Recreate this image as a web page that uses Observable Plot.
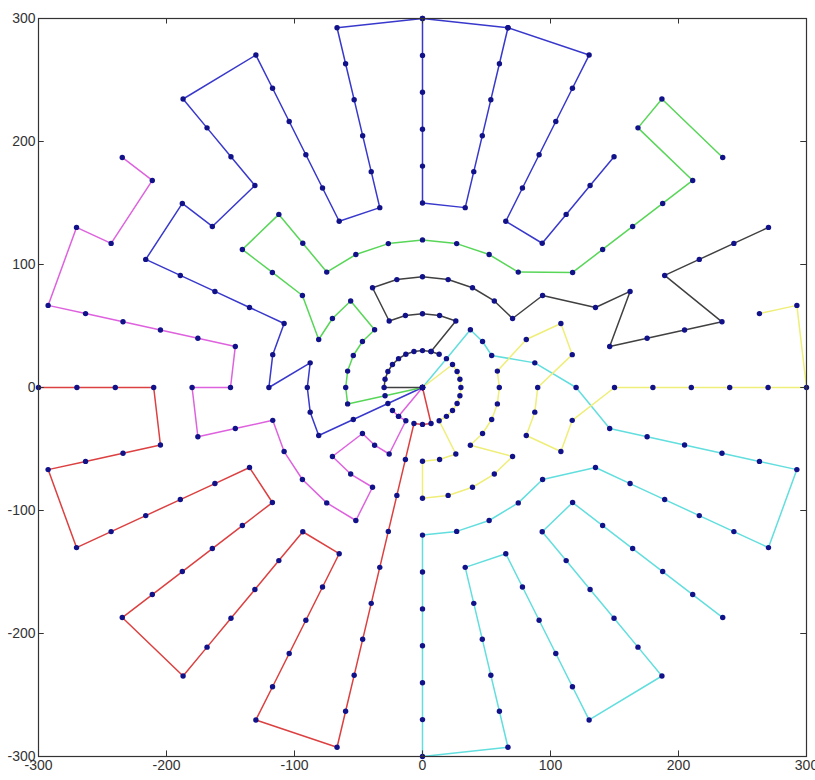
<!DOCTYPE html>
<html><head><meta charset="utf-8">
<script src="https://cdn.jsdelivr.net/npm/d3@7"></script>
<script src="https://cdn.jsdelivr.net/npm/@observablehq/plot@0.6"></script>
<style>body{margin:0;background:#fff}</style>
</head><body><div id="chart"></div>
<script>
// Polar grid the paths run on: ring index k (radius = k * ringStep), spoke index j (angle = j / spokes of a turn)
const spokes = 28;
const ringStep = 30;
const xTicks = [-300, -200, -100, 0, 100, 200, 300];
const yTicks = [-300, -200, -100, 0, 100, 200, 300];

// Each path: list of [ring, spoke] vertices
const bluePathA = [[0,0],[1,16],[2,16],[3,16],[3,15],[3,14],[3,13],[4,14],[4,13],[4,12],[5,12],[6,12],[7,12],[8,12],[8,11],[7,11],[7,10],[8,10],[9,10],[10,10],[10,9],[9,9],[8,9],[7,9],[6,9],[5,9],[5,8],[6,8],[7,8],[8,8],[9,8],[10,8],[10,7],[10,6],[10,5],[9,5],[8,5],[7,5],[6,5],[5,5],[5,4],[6,4],[7,4],[8,4]];
const bluePathB = [[10,7],[9,7],[8,7],[7,7],[6,7],[5,7],[5,6],[6,6],[7,6],[8,6],[9,6],[10,6]];
const greenPath = [[0,0],[1,15],[2,15],[2,14],[2,13],[2,12],[2,11],[2,10],[3,10],[3,11],[3,12],[4,11],[5,11],[6,11],[6,10],[5,10],[4,10],[4,9],[4,8],[4,7],[4,6],[4,5],[4,4],[5,3],[6,3],[7,3],[8,3],[9,3],[9,4],[10,4],[10,3]];
const redPath = [[0,0],[1,22],[1,21],[1,20],[2,20],[3,20],[4,20],[5,20],[6,20],[7,20],[8,20],[9,20],[10,20],[10,19],[9,19],[8,19],[7,19],[6,19],[5,19],[5,18],[6,18],[7,18],[8,18],[9,18],[10,18],[10,17],[9,17],[8,17],[7,17],[6,17],[5,17],[5,16],[6,16],[7,16],[8,16],[9,16],[10,16],[10,15],[9,15],[8,15],[7,15],[7,14],[8,14],[9,14],[10,14]];
const cyanPath = [[0,0],[1,4],[2,4],[2,3],[2,2],[3,1],[4,0],[5,27],[6,27],[7,27],[8,27],[9,27],[10,27],[10,26],[9,26],[8,26],[7,26],[6,26],[5,26],[4,25],[4,24],[4,23],[4,22],[4,21],[5,21],[6,21],[7,21],[8,21],[9,21],[10,21],[10,22],[9,22],[8,22],[7,22],[6,22],[5,22],[5,23],[6,23],[7,23],[8,23],[9,23],[10,23],[10,24],[9,24],[8,24],[7,24],[6,24],[5,24],[5,25],[6,25],[7,25],[8,25],[9,25],[10,25]];
const magentaPath = [[0,0],[1,18],[1,17],[1,18],[1,19],[2,19],[2,18],[2,17],[3,17],[3,18],[3,19],[4,19],[4,18],[4,17],[4,16],[4,15],[5,15],[6,15],[6,14],[5,14],[5,13],[6,13],[7,13],[8,13],[9,13],[10,13],[10,12],[9,12],[9,11],[10,11]];
const yellowPath = [[0,0],[1,3],[1,2],[1,1],[1,0],[1,27],[1,26],[1,25],[1,24],[1,23],[2,23],[2,22],[2,21],[3,21],[3,22],[3,23],[3,24],[3,25],[2,24],[2,25],[2,26],[2,27],[2,0],[2,1],[3,2],[4,2],[4,1],[3,0],[3,27],[3,26],[4,26],[4,27],[5,0],[6,0],[7,0],[8,0],[9,0],[10,0],[10,1],[9,1]];
const blackPath = [[0,0],[1,14],[1,13],[1,12],[1,11],[1,10],[1,9],[1,8],[1,7],[1,6],[1,5],[1,6],[2,5],[2,6],[2,7],[2,8],[2,9],[3,9],[3,8],[3,7],[3,6],[3,5],[3,4],[3,3],[4,3],[5,2],[6,2],[5,1],[6,1],[7,1],[8,1],[7,2],[8,2],[9,2],[10,2]];

const series = [
  {id: "blueA", color: "#3838cc", pts: bluePathA},
  {id: "blueB", color: "#3838cc", pts: bluePathB},
  {id: "green", color: "#58d658", pts: greenPath},
  {id: "red", color: "#dc4040", pts: redPath},
  {id: "cyan", color: "#62dede", pts: cyanPath},
  {id: "magenta", color: "#de62de", pts: magentaPath},
  {id: "yellow", color: "#eeee78", pts: yellowPath},
  {id: "black", color: "#404040", pts: blackPath}
];

const rows = [];
for (const s of series) {
  s.pts.forEach(([k, j], i) => {
    const a = 2 * Math.PI * j / spokes;
    rows.push({id: s.id, color: s.color, i, x: k * ringStep * Math.cos(a), y: k * ringStep * Math.sin(a)});
  });
}

const chart = Plot.plot({
  width: 815,
  height: 780,
  marginLeft: 38,
  marginRight: 9,
  marginTop: 18,
  marginBottom: 24,
  style: {fontFamily: "'Liberation Sans Narrow', 'Liberation Sans', Arial, sans-serif", fontSize: "14px", color: "#333"},
  x: {domain: [-300, 300], ticks: xTicks, tickSize: 0, tickPadding: 4, tickFormat: d => String(d), label: null},
  y: {domain: [-300, 300], ticks: yTicks, tickSize: 0, tickPadding: 3, tickFormat: d => String(d), label: null},
  color: {type: "identity"},
  marks: [
    Plot.line(rows, {x: "x", y: "y", z: "id", stroke: "color", strokeWidth: 1.5, curve: "linear"}),
    Plot.dot(rows, {x: "x", y: "y", r: 2.7, fill: "#11118a", stroke: "none"}),
    Plot.ruleX(xTicks, {x: d => d, y1: -300, y2: -295.5, stroke: "#333"}),
    Plot.ruleX(xTicks, {x: d => d, y1: 300, y2: 295.5, stroke: "#333"}),
    Plot.ruleY(yTicks, {y: d => d, x1: -300, x2: -295.5, stroke: "#333"}),
    Plot.ruleY(yTicks, {y: d => d, x1: 300, x2: 295.5, stroke: "#333"}),
    Plot.frame({stroke: "#333", strokeWidth: 1.2})
  ]
});
document.getElementById("chart").appendChild(chart);
</script>
</body></html>
